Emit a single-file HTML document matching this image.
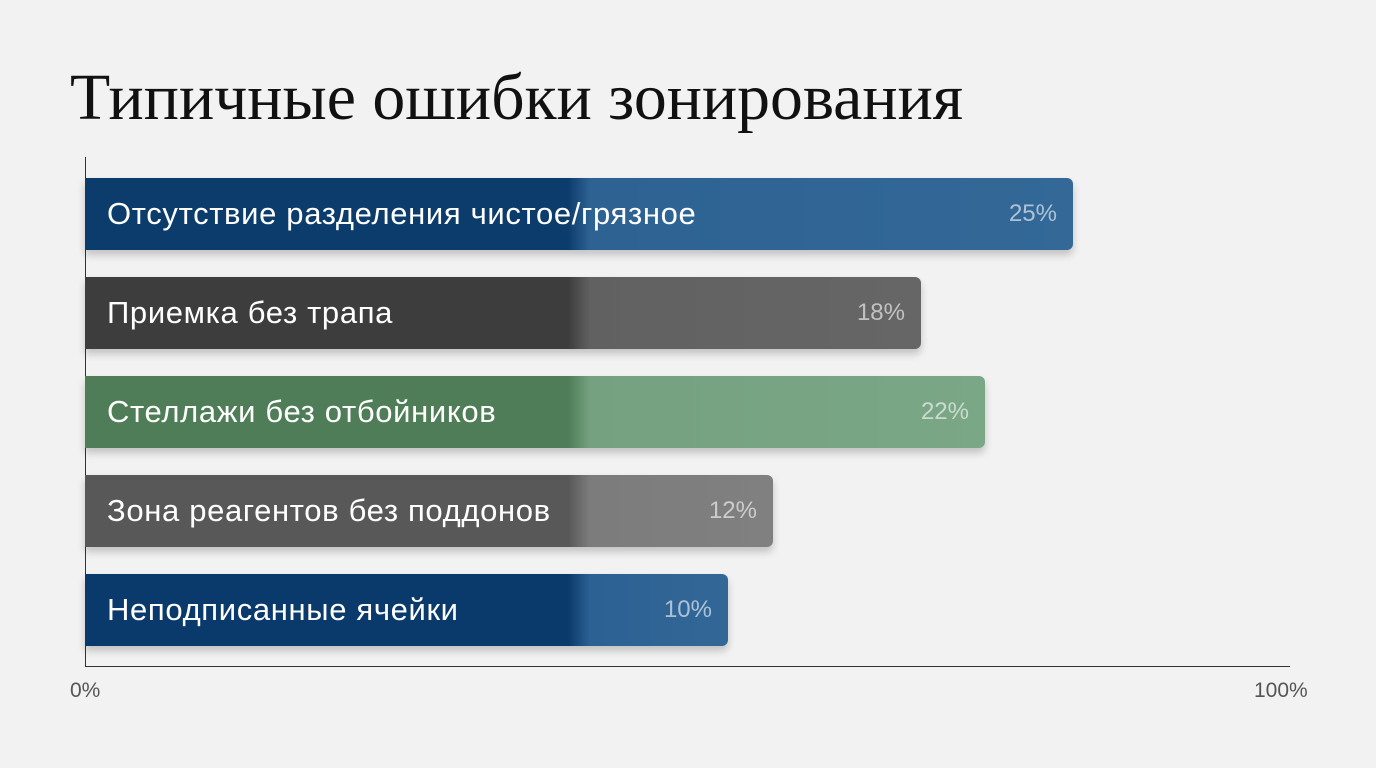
<!DOCTYPE html>
<html><head><meta charset="utf-8"><style>
body{margin:0;width:1376px;height:768px;background:#f2f2f2;position:relative;overflow:hidden;font-family:"Liberation Sans","DejaVu Sans",sans-serif}
.t{position:absolute;left:70px;top:60px;font-family:"Liberation Serif","DejaVu Serif",serif;font-size:65.8px;color:#111;white-space:nowrap}
.bar{position:absolute;left:85px;height:72px;border-radius:0 6px 6px 0;box-shadow:0 5px 8px rgba(0,0,0,.2)}
.bar span{position:absolute;left:22px;top:0;line-height:72px;color:#fff;font-size:31px;letter-spacing:0.65px;white-space:nowrap}
.bar b{position:absolute;right:16px;top:0;line-height:72px;color:rgba(255,255,255,.6);font-weight:normal;font-size:24px}
.ax{position:absolute;background:#333}
.lb{position:absolute;top:679px;color:#555;font-size:21px}
</style></head><body>
<div class="t">Типичные ошибки зонирования</div>
<div class="ax" style="left:85px;top:157px;width:1px;height:510px"></div>
<div class="ax" style="left:85px;top:666px;width:1205px;height:1px"></div>
<div class="bar" style="top:178px;width:988px;background:linear-gradient(90deg,#0b3c6c 0,#0b3c6c 483px,#2d6293 505px,#336897 100%)"><span>Отсутствие разделения чистое/грязное</span><b>25%</b></div>
<div class="bar" style="top:277px;width:836px;background:linear-gradient(90deg,#3d3d3d 0,#3d3d3d 483px,#616161 505px,#666 100%)"><span>Приемка без трапа</span><b>18%</b></div>
<div class="bar" style="top:376px;width:900px;background:linear-gradient(90deg,#4e7d58 0,#4e7d58 483px,#75a181 505px,#7aa786 100%)"><span>Стеллажи без отбойников</span><b>22%</b></div>
<div class="bar" style="top:475px;width:688px;background:linear-gradient(90deg,#585858 0,#585858 483px,#7c7c7c 505px,#808080 100%)"><span>Зона реагентов без поддонов</span><b>12%</b></div>
<div class="bar" style="top:574px;width:643px;background:linear-gradient(90deg,#0a3a6b 0,#0a3a6b 483px,#2c6193 505px,#326797 100%)"><span>Неподписанные ячейки</span><b>10%</b></div>
<div class="lb" style="left:70px">0%</div>
<div class="lb" style="left:1254px">100%</div>
</body></html>
